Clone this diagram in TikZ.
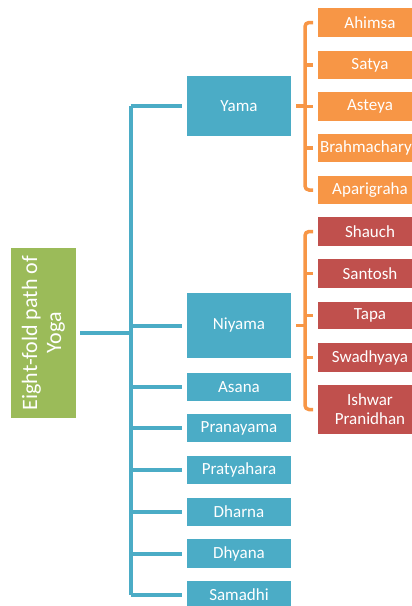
\documentclass[tikz,border=0pt]{standalone}
\usepackage{fontspec}
\setmainfont{Carlito}
\definecolor{cblue}{HTML}{4BACC6}
\definecolor{corange}{HTML}{F79646}
\definecolor{cred}{HTML}{C0504D}
\definecolor{cgreen}{HTML}{9BBB59}
\begin{document}
\begin{tikzpicture}[x=1pt,y=-1pt,
  every node/.style={inner sep=0pt, outer sep=0pt, text=white, font=\fontsize{17}{19}\selectfont, align=center},
  bbox/.style={fill=cblue, minimum width=104pt, minimum height=28pt},
  obox/.style={fill=corange, minimum width=104pt, minimum height=29pt},
  rbox/.style={fill=cred, minimum width=104pt, minimum height=29pt},
  bline/.style={draw=cblue, line width=4pt},
  oline/.style={draw=corange, line width=3.5pt}]
\useasboundingbox (0,0) rectangle (412,606);
% root
\node[fill=cgreen, rotate=90, minimum width=170pt, minimum height=65pt,
      font=\fontsize{22}{24}\selectfont] (root) at (43.5,333) {Eight-fold path of\\Yoga};
% level 1
\node[bbox, minimum height=60pt] (yama) at (239,106) {Yama};
\node[bbox, minimum height=65pt] (niyama) at (239,325.5) {Niyama};
\node[bbox] (asana) at (239,387) {Asana};
\node[bbox] (prana) at (239,428) {Pranayama};
\node[bbox] (pratya) at (239,470) {Pratyahara};
\node[bbox] (dharna) at (239,512) {Dharna};
\node[bbox, minimum height=29pt] (dhyana) at (239,553.5) {Dhyana};
\node[bbox] (samadhi) at (239,595) {Samadhi};
% trunk
\coordinate (ttop) at (130.5,106);
\coordinate (tbot) at (130.5,595);
\draw[bline] (ttop) -- (tbot);
\draw[bline] ([xshift=4pt]root.south) -- (130.5,333);
\foreach \n in {yama,niyama,asana,prana,pratya,dharna,dhyana,samadhi}
  \draw[bline] (\n.west -| ttop) -- ([xshift=-5pt]\n.west);
% yama children
\node[obox] (ahimsa) at (370,22.5) {Ahimsa};
\node[obox, minimum height=28pt] (satya) at (370,65) {Satya};
\node[obox] (asteya) at (370,106.5) {Asteya};
\node[obox, minimum height=28pt] (brahma) at (370,148) {Brahmachary\phantom{a}};
\node[obox, minimum height=28pt] (apari) at (370,190) {Aparigraha};
\coordinate (yb) at (305,106);
\draw[oline, rounded corners=4pt] ([xshift=-5pt]ahimsa.west) -| (yb) |- ([xshift=-5pt]apari.west);
\foreach \n in {satya,asteya,brahma}
  \draw[oline] ([xshift=-5pt]\n.west) -- (\n.west -| yb);
\draw[oline] ([xshift=5pt]yama.east) -- (yb);
% niyama children
\node[rbox] (shauch) at (370,231.5) {Shauch};
\node[rbox] (santosh) at (370,273.5) {Santosh};
\node[rbox, minimum height=27pt] (tapa) at (370,315.5) {Tapa};
\node[rbox] (swadh) at (370,357.5) {Swadhyaya};
\node[rbox, minimum height=49pt] (ishwar) at (370,409.5) {Ishwar\\Pranidhan};
\coordinate (nb) at (305,325.5);
\draw[oline, rounded corners=4pt] ([xshift=-5pt]shauch.west) -| (nb) |- ([xshift=-5pt]ishwar.west);
\foreach \n in {santosh,tapa,swadh}
  \draw[oline] ([xshift=-5pt]\n.west) -- (\n.west -| nb);
\draw[oline] ([xshift=5pt]niyama.east) -- (nb);
\end{tikzpicture}
\end{document}
